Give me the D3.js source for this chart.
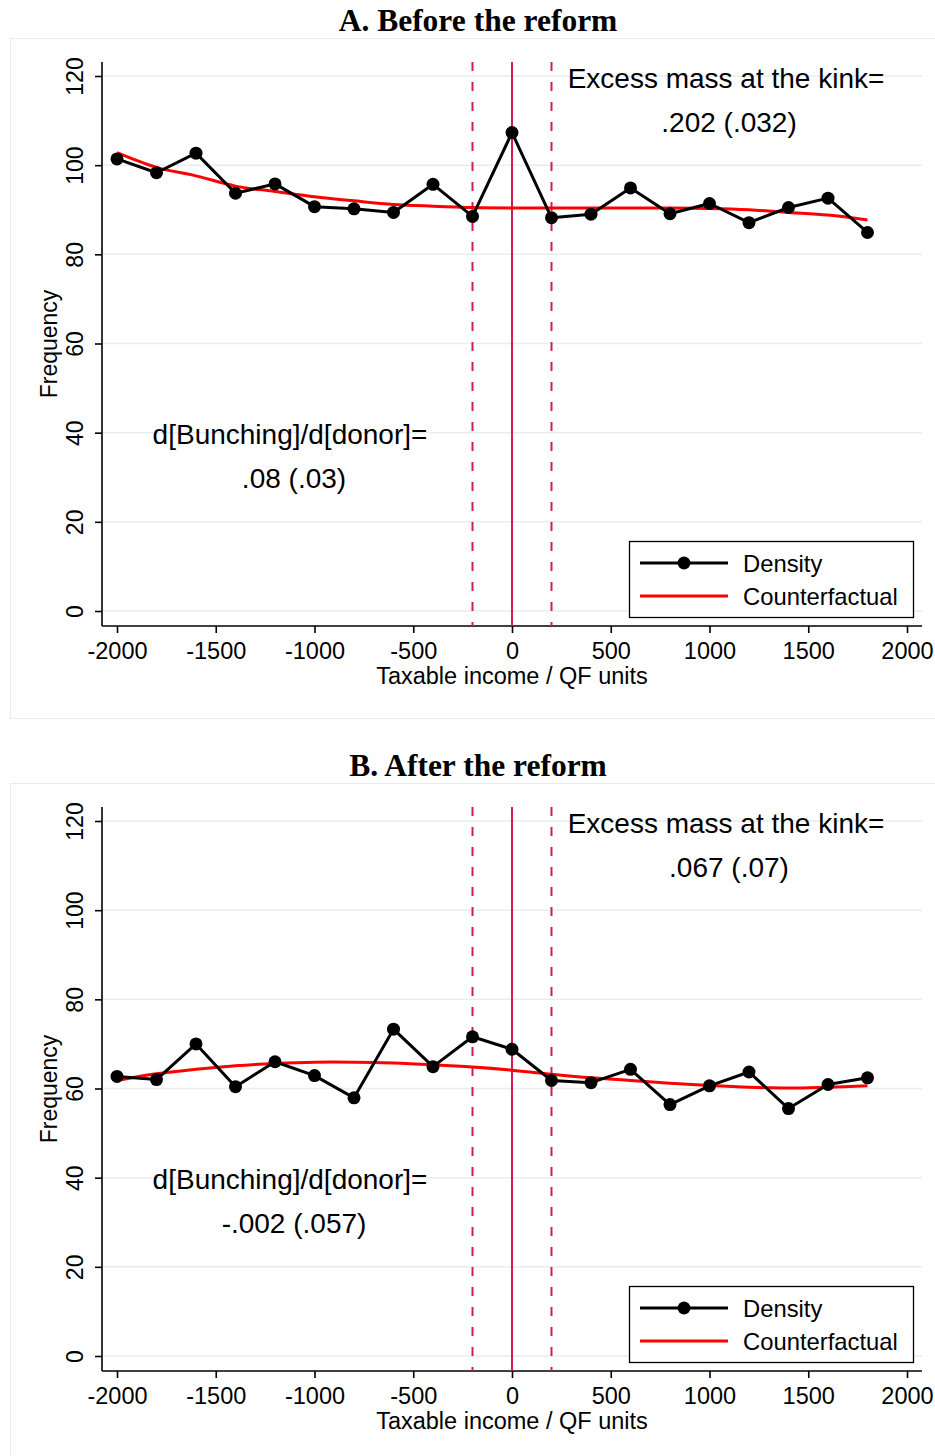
<!DOCTYPE html>
<html>
<head>
<meta charset="utf-8">
<script src="https://cdn.jsdelivr.net/npm/d3@7"></script>
<style>
  html, body { margin: 0; padding: 0; background: #fff; }
  svg { display: block; }
</style>
</head>
<body>
<script>
// ---- Data ----
const bins = [-2000, -1800, -1600, -1400, -1200, -1000, -800, -600, -400, -200,
              0, 200, 400, 600, 800, 1000, 1200, 1400, 1600, 1800];
const densityBefore = [101.4, 98.3, 102.7, 93.7, 95.8, 90.7, 90.2, 89.4, 95.7, 88.5,
                       107.3, 88.2, 89.0, 94.9, 89.1, 91.4, 87.1, 90.5, 92.6, 84.9];
const counterBefore = [102.8, 99.5, 97.6, 95.3, 94.1, 92.9, 92.0, 91.2, 90.8, 90.5,
                       90.4, 90.4, 90.4, 90.4, 90.4, 90.3, 90.0, 89.4, 88.8, 87.7];
const densityAfter = [62.7, 62.0, 70.0, 60.4, 66.0, 62.9, 57.9, 73.3, 64.9, 71.6,
                      68.8, 61.8, 61.3, 64.3, 56.4, 60.6, 63.7, 55.5, 60.9, 62.4];
const counterAfter = [61.8, 63.3, 64.3, 65.1, 65.6, 65.9, 65.9, 65.7, 65.3, 64.8,
                      64.1, 63.2, 62.4, 61.8, 61.2, 60.7, 60.3, 60.1, 60.3, 60.6];
const xTicks = [-2000, -1500, -1000, -500, 0, 500, 1000, 1500, 2000];
const yTicks = [0, 20, 40, 60, 80, 100, 120];
const kinkLines = [-200, 0, 200];
const panelTitles = ["A. Before the reform", "B. After the reform"];
const excessLabels = [".202 (.032)", ".067 (.07)"];
const bunchLabels = [".08 (.03)", "-.002 (.057)"];
const legendLabels = ["Density", "Counterfactual"];

// ---- Drawing ----
const W = 935, H = 1456;
const svg = d3.select("body").append("svg").attr("width", W).attr("height", H);
const SANS = "'Liberation Sans', Arial, Helvetica, sans-serif";
const SERIF = "'Liberation Serif', 'Times New Roman', serif";
const KINK = "#d11f4d";
const GRID = "#e6eef0";
const fmt = d => String(d);

const x = d3.scaleLinear().domain([-2000, 2000]).range([117, 907]);
const y = d3.scaleLinear().domain([0, 120]).range([611, 76]);

function drawPanel(g, idx, density, counter) {
  // outer frame
  g.append("rect").attr("x", 10.5).attr("y", 38.5).attr("width", 940).attr("height", 680)
    .attr("fill", "#fff").attr("stroke", "#e8eef0").attr("stroke-width", 1);

  // title
  g.append("text").attr("x", 478).attr("y", 31).attr("text-anchor", "middle")
    .attr("font-family", SERIF).attr("font-weight", "bold").attr("font-size", 31.5)
    .text(panelTitles[idx]);

  // grid
  g.append("g").selectAll("line").data(yTicks).join("line")
    .attr("x1", 102).attr("x2", 922)
    .attr("y1", d => y(d)).attr("y2", d => y(d))
    .attr("stroke", GRID).attr("stroke-width", 1.5);

  // y axis
  const yAxis = g.append("g").attr("transform", "translate(102,0)")
    .call(d3.axisLeft(y).tickValues(yTicks).tickSize(7).tickSizeOuter(0));
  yAxis.select(".domain").attr("d", `M0,62V626`).attr("stroke", "#000").attr("stroke-width", 1.6);
  yAxis.selectAll(".tick line").attr("stroke", "#000").attr("stroke-width", 1.6);
  yAxis.selectAll(".tick text").remove();
  yAxis.selectAll(".tick").append("text")
    .attr("transform", "translate(-19,0) rotate(-90)")
    .attr("text-anchor", "middle").attr("fill", "#000")
    .attr("font-family", SANS).attr("font-size", 23)
    .text(fmt);

  // x axis
  const xAxis = g.append("g").attr("transform", "translate(0,626)")
    .call(d3.axisBottom(x).tickValues(xTicks).tickFormat(fmt).tickSize(7).tickSizeOuter(0));
  xAxis.select(".domain").attr("d", "M102,0H922").attr("stroke", "#000").attr("stroke-width", 1.6);
  xAxis.selectAll(".tick line").attr("stroke", "#000").attr("stroke-width", 1.6);
  xAxis.selectAll(".tick text").attr("font-family", SANS).attr("font-size", 23.5)
    .attr("fill", "#000").attr("dy", null).attr("y", 33);

  // axis titles
  g.append("text").attr("x", 512).attr("y", 684).attr("text-anchor", "middle")
    .attr("font-family", SANS).attr("font-size", 23.5).text("Taxable income / QF units");
  g.append("text").attr("transform", "translate(57,344) rotate(-90)")
    .attr("text-anchor", "middle").attr("font-family", SANS).attr("font-size", 23)
    .text("Frequency");

  // kink lines
  g.append("g").selectAll("line").data(kinkLines).join("line")
    .attr("x1", d => x(d)).attr("x2", d => x(d))
    .attr("y1", 62).attr("y2", 626)
    .attr("stroke", KINK).attr("stroke-width", 2)
    .attr("stroke-dasharray", d => d === 0 ? null : "9,11");

  // counterfactual
  const line = d3.line().x((d, i) => x(bins[i])).y(d => y(d));
  g.append("path").datum(counter)
    .attr("d", line.curve(d3.curveCatmullRom))
    .attr("fill", "none").attr("stroke", "#ff0000").attr("stroke-width", 3);

  // density
  g.append("path").datum(density)
    .attr("d", d3.line().x((d, i) => x(bins[i])).y(d => y(d)))
    .attr("fill", "none").attr("stroke", "#000").attr("stroke-width", 3)
    .attr("stroke-linejoin", "round");
  g.append("g").selectAll("circle").data(density).join("circle")
    .attr("cx", (d, i) => x(bins[i])).attr("cy", d => y(d)).attr("r", 6.5).attr("fill", "#000");

  // annotations
  const AF = 28;
  g.append("text").attr("x", 726).attr("y", 88).attr("text-anchor", "middle")
    .attr("font-family", SANS).attr("font-size", AF).text("Excess mass at the kink=");
  g.append("text").attr("x", 729).attr("y", 132).attr("text-anchor", "middle")
    .attr("font-family", SANS).attr("font-size", AF).text(excessLabels[idx]);
  g.append("text").attr("x", 290).attr("y", 444).attr("text-anchor", "middle")
    .attr("font-family", SANS).attr("font-size", AF).text("d[Bunching]/d[donor]=");
  g.append("text").attr("x", 294).attr("y", 488).attr("text-anchor", "middle")
    .attr("font-family", SANS).attr("font-size", AF).text(bunchLabels[idx]);

  // legend
  const lg = g.append("g");
  lg.append("rect").attr("x", 629.5).attr("y", 541.5).attr("width", 284).attr("height", 76)
    .attr("fill", "#fff").attr("stroke", "#000").attr("stroke-width", 1.3);
  lg.append("line").attr("x1", 640).attr("x2", 728).attr("y1", 563).attr("y2", 563)
    .attr("stroke", "#000").attr("stroke-width", 3);
  lg.append("circle").attr("cx", 684).attr("cy", 563).attr("r", 6.5).attr("fill", "#000");
  lg.append("line").attr("x1", 640).attr("x2", 728).attr("y1", 596).attr("y2", 596)
    .attr("stroke", "#ff0000").attr("stroke-width", 3);
  lg.append("text").attr("x", 743).attr("y", 572).attr("font-family", SANS)
    .attr("font-size", 23.8).text(legendLabels[0]);
  lg.append("text").attr("x", 743).attr("y", 605).attr("font-family", SANS)
    .attr("font-size", 23.8).text(legendLabels[1]);
}

drawPanel(svg.append("g"), 0, densityBefore, counterBefore);
drawPanel(svg.append("g").attr("transform", "translate(0,745)"), 1, densityAfter, counterAfter);
</script>
</body>
</html>
